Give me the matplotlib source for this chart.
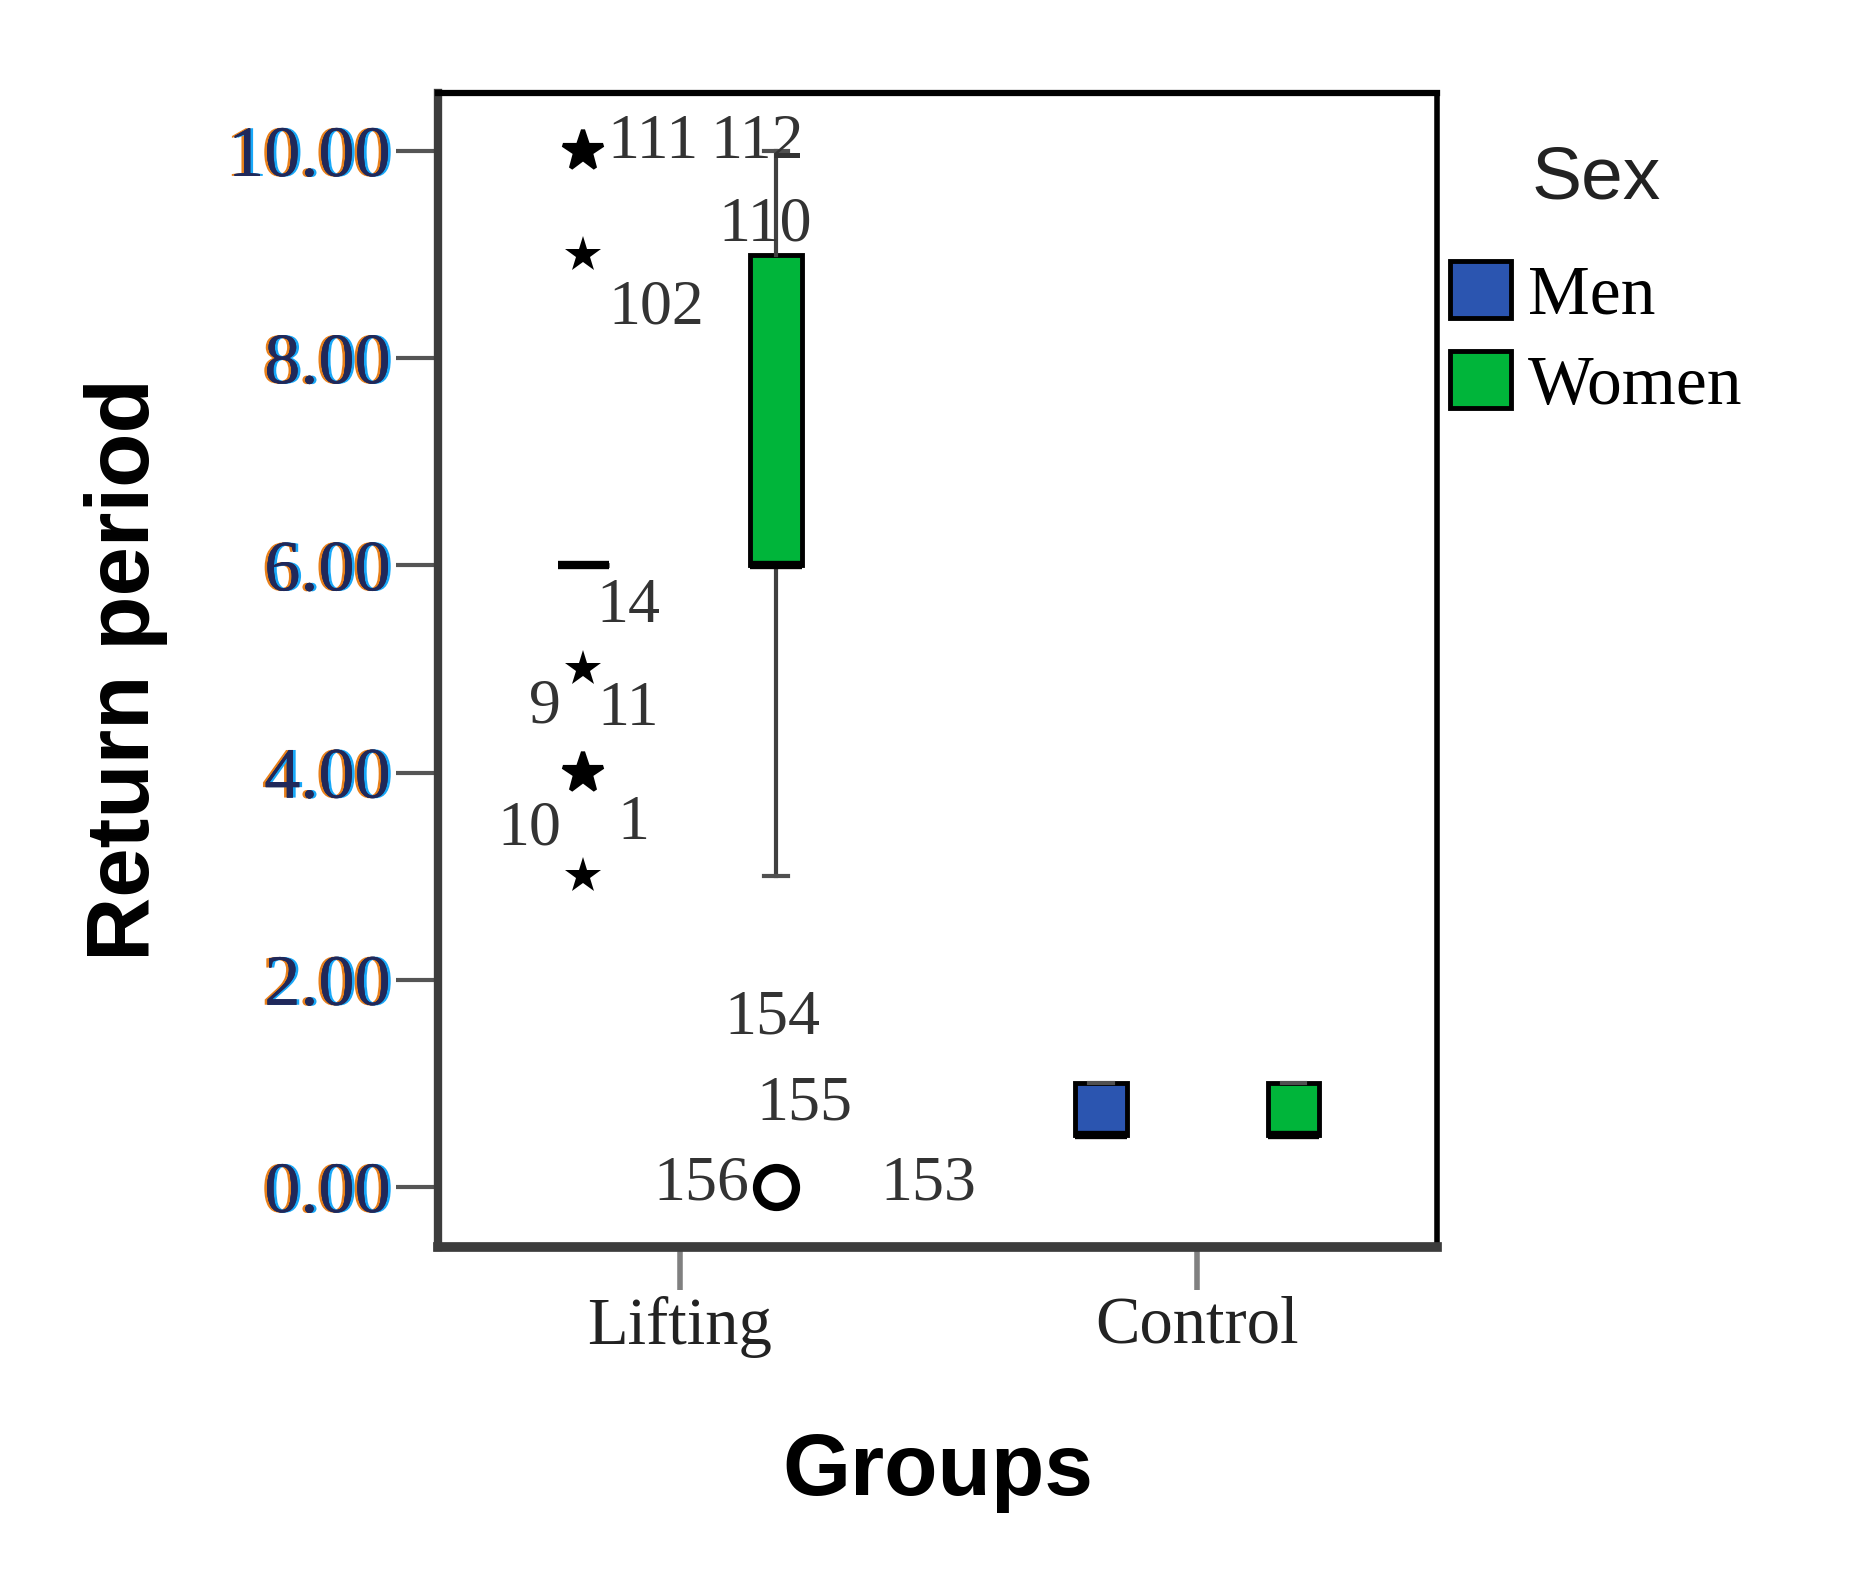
import matplotlib
matplotlib.use("Agg")
import matplotlib.pyplot as plt
import matplotlib.patheffects as pe
from matplotlib.patches import Patch

# categories
groups = ["Lifting", "Control"]
sexes = ["Men", "Women"]
sex_colors = ["#2b55b0", "#00b53a"]

# box statistics: [Lifting, Control] per sex
q1 = {"Men": [6.0, 0.5], "Women": [6.0, 0.5]}
med = {"Men": [6.0, 0.5], "Women": [6.0, 0.5]}
q3 = {"Men": [6.0, 1.0], "Women": [9.0, 1.0]}
whislo = {"Men": [6.0, 0.5], "Women": [3.0, 0.5]}
whishi = {"Men": [6.0, 1.0], "Women": [10.0, 1.0]}

# extreme values (stars) and outliers (circles)
men_extremes = [10, 9, 5, 4, 3]
men_extremes_bold = [True, False, False, True, False]
women_outliers = [0]

# case labels and where they sit (data coords)
case_labels = ["111", "112", "110", "102", "14", "9", "11", "10", "1",
               "154", "155", "156", "153"]
label_x = [-0.14, 0.06, 0.165, -0.045, -0.10, -0.26, -0.10, -0.29, -0.09,
           0.18, 0.24, 0.135, 0.48]
label_y = [10.08, 10.08, 9.28, 8.48, 5.6, 4.63, 4.6, 3.45, 3.5,
           1.63, 0.8, 0.02, 0.02]
label_ha = ["left", "left", "center", "center", "center", "center", "center",
            "center", "center", "center", "center", "right", "center"]

offset = 0.186
width = 0.1

fig = plt.figure(figsize=(18.58, 15.69), dpi=100)
ax = fig.add_axes([0.2357, 0.2052, 0.5377, 0.7356])

for k, sex in enumerate(sexes):
    pos = [g + (2 * k - 1) * offset for g in range(len(groups))]
    stats = []
    for i in range(len(groups)):
        stats.append(dict(q1=q1[sex][i], med=med[sex][i], q3=q3[sex][i],
                          whislo=whislo[sex][i], whishi=whishi[sex][i],
                          fliers=[]))
    ax.bxp(stats, positions=pos, widths=width, patch_artist=True,
           showfliers=False, capwidths=0.045,
           boxprops=dict(facecolor=sex_colors[k], edgecolor="black", linewidth=3.5),
           medianprops=dict(color="black", linewidth=6, solid_capstyle="butt"),
           whiskerprops=dict(color="#404040", linewidth=3),
           capprops=dict(color="#505050", linewidth=3))

# extremes for men in Lifting
xm = [0 - offset] * len(men_extremes)
for x, y, bold in zip(xm, men_extremes, men_extremes_bold):
    if bold:
        ax.plot(x, y, marker="*", ms=30, color="black", mec="black", mew=3)
    else:
        ax.plot(x, y, marker="*", ms=27, color="black", mec="black", mew=0)

# outlier circle for women in Lifting
ax.plot([0 + offset] * len(women_outliers), women_outliers, marker="o", ms=28,
        mfc="white", mec="black", mew=6, ls="none")

for t, x, y, ha in zip(case_labels, label_x, label_y, label_ha):
    ax.text(x, y, t, ha=ha, va="center", fontsize=46, color="#333333",
            family="Liberation Serif")

ax.set_xlim(-0.467, 1.463)
ax.set_ylim(-0.58, 10.56)
ax.set_xticks(range(len(groups)))
ax.set_xticklabels(groups, family="Liberation Serif", fontsize=48, color="#222222")
yt = [0, 2, 4, 6, 8, 10]
ax.set_yticks(yt)
ax.set_yticklabels([f"{v:.2f}" for v in yt], family="Liberation Serif",
                   fontsize=52, color="#20285a")
for lab in ax.get_yticklabels():
    lab.set_path_effects([
        pe.withSimplePatchShadow(offset=(-2, 0), shadow_rgbFace="#e8801a", alpha=1),
        pe.withSimplePatchShadow(offset=(2, 0), shadow_rgbFace="#18a8f8", alpha=1),
        pe.Normal()])
ax.tick_params(axis="y", length=30, width=3, color="#555555", pad=4)
ax.tick_params(axis="x", length=31, width=4, color="#808080", pad=4)

for side, lw, c in [("left", 6, "#3c3c3c"), ("bottom", 7, "#3c3c3c"),
                    ("top", 4.5, "black"), ("right", 4, "black")]:
    ax.spines[side].set_linewidth(lw)
    ax.spines[side].set_color(c)

ax.set_ylabel("Return period", family="Liberation Sans", fontweight="bold",
              fontsize=64)
ax.yaxis.set_label_coords(-0.27, 0.5)
ax.set_xlabel("Groups", family="Liberation Sans", fontweight="bold", fontsize=63)
ax.xaxis.set_label_coords(0.5, -0.16)

handles = [Patch(facecolor=c, edgecolor="black", linewidth=3.5) for c in sex_colors]
leg = ax.legend(handles, sexes, title="Sex", loc="upper left",
                bbox_to_anchor=(0.985, 0.979), frameon=False,
                prop=dict(family="Liberation Serif", size=50),
                title_fontproperties=dict(family="Liberation Sans", size=54),
                handlelength=0.88, handleheight=0.88, handletextpad=0.25,
                labelspacing=0.33, borderaxespad=0)
leg.get_title().set_color("#222222")
leg._legend_box.sep = 34

fig.savefig("out.png", dpi=100)
